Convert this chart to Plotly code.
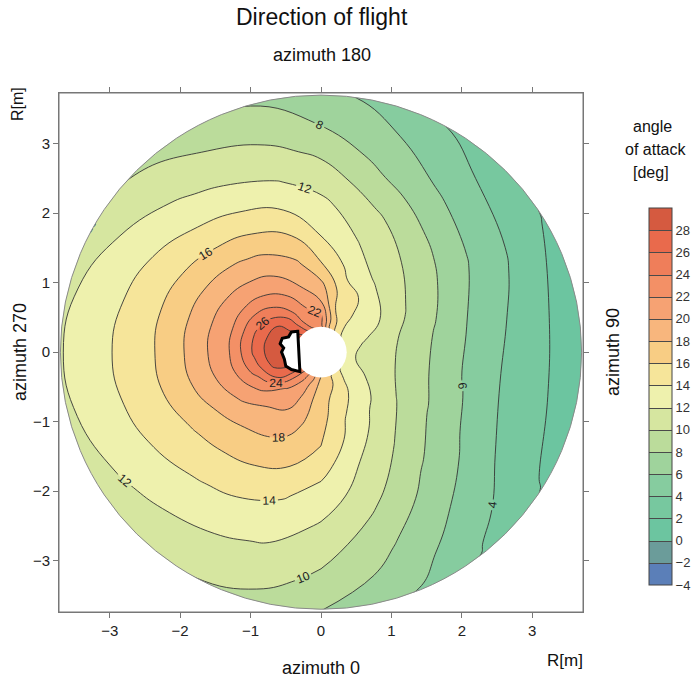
import numpy as np
import plotly.graph_objects as go

# ---------------- data ----------------
# radial stations [m] and azimuth stations [deg] (azimuth 0 = bottom, 90 = right, 180 = top)
radius_m = [0.35, 0.5, 0.7, 0.95, 1.3, 1.7, 2.1, 2.5, 2.9, 3.3, 3.7]
azimuth_deg = [0, 20, 40, 60, 80, 100, 120, 140, 160, 180, 195, 210, 225,
               240, 255, 270, 285, 300, 315, 330, 345, 360]

# angle of attack [deg] along each azimuth, one value per radial station
aoa_az000 = [18.0, 17.2, 16.9, 16.7, 16.2, 14.6, 13.1, 11.8, 10.6, 9.5, 8.4]
aoa_az020 = [16.5, 16.0, 15.0, 14.2, 13.15, 11.8, 10.75, 9.5, 8.25, 7.2, 6.2]
aoa_az040 = [14.5, 14.0, 13.55, 12.5, 11.15, 9.75, 8.35, 7.1, 5.9, 4.75, 3.7]
aoa_az060 = [13.5, 12.5, 12.1, 11.3, 9.7, 8.15, 6.65, 5.2, 3.85, 2.75, 1.7]
aoa_az080 = [13.0, 12.0, 11.3, 10.5, 9.1, 7.4, 5.7, 4.25, 3.0, 1.9, 1.1]
aoa_az100 = [13.0, 12.3, 11.55, 10.65, 9.3, 7.65, 6.0, 4.6, 3.25, 1.95, 1.1]
aoa_az120 = [13.5, 13.3, 12.7, 12.1, 10.35, 8.8, 7.3, 5.7, 4.4, 3.05, 1.8]
aoa_az140 = [15.0, 14.1, 14.0, 13.7, 11.45, 10.2, 8.65, 7.1, 5.45, 4.15, 3.0]
aoa_az160 = [18.0, 17.0, 15.3, 14.7, 13.15, 11.75, 10.55, 8.7, 7.1, 6.0, 4.8]
aoa_az180 = [23.0, 22.5, 20.3, 18.7, 16.0, 13.85, 12.6, 11.15, 9.5, 7.85, 6.8]
aoa_az195 = [24.0, 23.0, 21.5, 20.0, 18.4, 16.3, 14.1, 12.2, 10.7, 9.2, 7.9]
aoa_az210 = [26.0, 24.0, 23.0, 21.9, 19.8, 17.55, 15.2, 13.1, 11.45, 10.1, 8.8]
aoa_az225 = [28.0, 27.0, 26.0, 23.7, 20.8, 18.4, 16.1, 14.1, 12.45, 11.1, 9.85]
aoa_az240 = [29.0, 28.6, 28.4, 25.5, 21.6, 19.0, 16.75, 14.95, 13.45, 12.05, 10.95]
aoa_az255 = [29.5, 29.7, 29.05, 26.4, 22.0, 19.35, 17.1, 15.35, 14.0, 12.8, 11.65]
aoa_az270 = [29.5, 29.8, 29.2, 26.4, 22.0, 19.4, 17.1, 15.4, 14.2, 13.0, 11.9]
aoa_az285 = [29.2, 29.0, 28.5, 25.1, 21.4, 19.0, 16.85, 15.25, 14.0, 12.8, 11.7]
aoa_az300 = [27.5, 27.5, 26.4, 22.8, 20.3, 18.0, 16.15, 14.75, 13.5, 12.25, 11.2]
aoa_az315 = [25.0, 24.0, 22.25, 20.8, 19.05, 17.25, 15.6, 14.15, 12.85, 11.65, 10.6]
aoa_az330 = [22.5, 21.5, 21.0, 20.0, 18.5, 16.75, 15.1, 13.65, 12.35, 11.15, 10.1]
aoa_az345 = [20.5, 19.3, 18.6, 18.3, 17.6, 16.0, 14.3, 13.05, 11.8, 10.75, 9.5]

# colour bands of the legend, from -4 (bottom) to 30 (top), step 2
band_colors = ["#5b7fb8", "#6b9c9a", "#6cc5a0", "#77c89f", "#86cc9f", "#9fd39c",
               "#bbdc9b", "#d6e6a0", "#eef1ad", "#f6e59a", "#f8cd84", "#f8b67d",
               "#f6a273", "#f39066", "#ef7e5a", "#e96a4c", "#d55a40"]
cbar_ticks = [-4, -2, 0, 2, 4, 6, 8, 10, 12, 14, 16, 18, 20, 22, 24, 26, 28]
cbar_range = [-4, 30]
axis_ticks = [-3, -2, -1, 0, 1, 2, 3]
disk_radius = 3.7
hub_radius = 0.365

# hidden helper rings (inside the white hub and outside the white mask) that close
# every contour level, so that no contour ends on a curved edge of the grid
hub_ring_r, hub_ring_value = 0.2, 31.0
rim_ring_r, rim_ring_value = 4.5, -3.0

# ---------------- build figure ----------------
aoa_rows = [aoa_az000, aoa_az020, aoa_az040, aoa_az060, aoa_az080, aoa_az100,
            aoa_az120, aoa_az140, aoa_az160, aoa_az180, aoa_az195, aoa_az210,
            aoa_az225, aoa_az240, aoa_az255, aoa_az270, aoa_az285, aoa_az300,
            aoa_az315, aoa_az330, aoa_az345, aoa_az000]
a_vals = [hub_ring_r] + radius_m + [rim_ring_r]
z_grid = [[hub_ring_value] + row + [rim_ring_value] for row in aoa_rows]

R = np.array(a_vals)
PSI = np.radians(np.array(azimuth_deg, dtype=float))
X = np.outer(np.sin(PSI), R)
Y = -np.outer(np.cos(PSI), R)

n = len(band_colors)
fill_scale = [[k / (n - 1), c] for k, c in enumerate(band_colors)]
step_scale = []
for k, c in enumerate(band_colors):
    step_scale.append([k / n, c])
    step_scale.append([(k + 1) / n, c])

FONT = "Liberation Sans, Arial, sans-serif"
XR = [-3.72, 3.72]
YR = [-3.74, 3.73]

fig = go.Figure()
hidden_axis = dict(showgrid=False, showline=False, showticklabels="none",
                   startline=False, endline=False, minorgridcount=0, smoothing=1,
                   title=dict(text=""))
fig.add_trace(go.Carpet(
    a=a_vals, b=azimuth_deg, x=X.tolist(), y=Y.tolist(), carpet="disk",
    aaxis=hidden_axis, baxis=hidden_axis,
))
fig.add_trace(go.Contourcarpet(
    a=a_vals, b=azimuth_deg, z=z_grid, carpet="disk",
    autocontour=False,
    contours=dict(start=-2, end=28, size=2, coloring="fill", showlabels=True,
                  labelfont=dict(size=12, color="#222222", family=FONT)),
    line=dict(color="#363636", width=0.9, smoothing=1.3),
    colorscale=fill_scale, showscale=False,
))
# colour bar (off-screen helper trace carrying the legend scale)
fig.add_trace(go.Contour(
    x=[XR[1] + 10, XR[1] + 11], y=[YR[1] + 10, YR[1] + 11],
    z=[[cbar_range[0], cbar_range[1]], [cbar_range[1], cbar_range[0]]],
    zmin=cbar_range[0], zmax=cbar_range[1], zauto=False,
    autocontour=False, contours=dict(start=-2, end=28, size=2, coloring="heatmap"),
    line=dict(color="#4a4a4a", width=1),
    colorscale=step_scale, hoverinfo="skip",
    colorbar=dict(
        x=(649 - 59) / 524, xanchor="left", xpad=0,
        y=(612 - 396.5) / 519, yanchor="middle", ypad=0,
        len=377 / 519, lenmode="fraction", thickness=23, thicknessmode="pixels",
        tickvals=cbar_ticks, ticks="", ticklabelposition="outside",
        tickfont=dict(size=13, color="#333", family=FONT),
        outlinecolor="#444", outlinewidth=1,
    ),
    showscale=True,
))

# white mask outside the disk, hub, frame and disk outline
th = np.linspace(0, 2 * np.pi, 361)
circ = " ".join(f"L {disk_radius*np.cos(-t):.4f},{disk_radius*np.sin(-t):.4f}" for t in th[1:])
mask_path = (f"M {XR[0]},{YR[0]} L {XR[1]},{YR[0]} L {XR[1]},{YR[1]} L {XR[0]},{YR[1]} Z "
             f"M {disk_radius:.4f},0 {circ} Z")
shapes = [
    dict(type="path", xref="x", yref="y", path=mask_path, fillcolor="white",
         line=dict(width=0), layer="above"),
    dict(type="circle", xref="x", yref="y", x0=-disk_radius, x1=disk_radius,
         y0=-disk_radius, y1=disk_radius, line=dict(color="#8a8a8a", width=1)),
    dict(type="circle", xref="x", yref="y", x0=-hub_radius, x1=hub_radius,
         y0=-hub_radius, y1=hub_radius, fillcolor="white", line=dict(width=0)),
    dict(type="path", xref="x", yref="y",
         path="M -0.33,0.30 L -0.42,0.29 L -0.46,0.22 L -0.55,0.20 L -0.58,0.12 L -0.53,0.06 "
              "L -0.56,0.00 L -0.52,-0.10 L -0.50,-0.20 L -0.42,-0.25 L -0.30,-0.28 Z",
         fillcolor="white", line=dict(color="black", width=3)),
    dict(type="rect", xref="x", yref="y", x0=XR[0], x1=XR[1], y0=YR[0], y1=YR[1],
         line=dict(color="#777", width=1)),
]

def xp(px):
    return (px - 59) / 524

def yp(py):
    return (612 - py) / 519

ann = []
def add_text(text, px, py, size, angle=0):
    ann.append(dict(text=text, x=xp(px), y=yp(py), xref="paper", yref="paper",
                    showarrow=False, textangle=angle, xanchor="center", yanchor="middle",
                    font=dict(size=size, color="#111", family=FONT)))

add_text("Direction of flight", 322, 17, 23)
add_text("azimuth 180", 322, 55, 18)
add_text("azimuth 0", 321, 668, 18)
add_text("azimuth 270", 20, 352, 18, -90)
add_text("azimuth 90", 613, 352, 18, -90)
add_text("R[m]", 18, 104, 16, -90)
add_text("R[m]", 565, 660, 17)
add_text("angle", 652, 126, 16)
add_text("of attack", 655, 149, 16)
add_text("[deg]", 651, 172, 16)

axis_common = dict(showgrid=False, zeroline=False, showline=True, linecolor="#777",
                   linewidth=1, mirror="ticks", ticks="outside", ticklen=5,
                   tickcolor="#777", tickvals=axis_ticks,
                   tickfont=dict(size=15, color="#222", family=FONT))

fig.update_layout(
    width=693, height=681,
    margin=dict(l=59, r=110, t=93, b=69, autoexpand=False),
    paper_bgcolor="white", plot_bgcolor="white",
    xaxis=dict(range=XR, **axis_common),
    yaxis=dict(range=YR, **axis_common),
    shapes=shapes, annotations=ann, showlegend=False,
    font=dict(family=FONT),
)

fig.write_html("out.html", config={"displayModeBar": False},
               post_script="document.body.style.margin='0px'; document.documentElement.style.overflow='hidden';")
